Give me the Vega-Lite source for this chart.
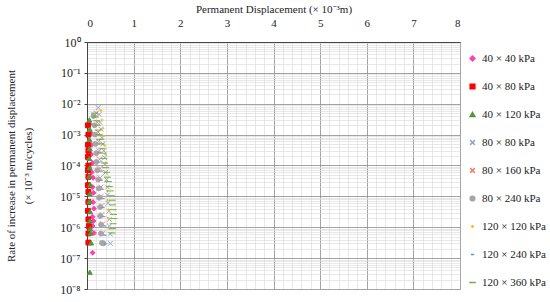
{
  "$schema": "https://vega.github.io/schema/vega-lite/v6.json",
  "width": 373,
  "height": 247,
  "autosize": {"type": "none"},
  "padding": {"left": 87, "top": 42, "right": 90, "bottom": 13},
  "background": "white",
  "config": {
    "view": {"stroke": null},
    "font": "Liberation Serif",
    "axis": {"labelFont": "Liberation Serif", "titleFont": "Liberation Serif", "labelColor": "#222", "titleColor": "#222", "titleFontWeight": "normal"},
    "legend": {"labelFont": "Liberation Serif"}
  },
  "data": {"values": [
    {"s":"40 × 40 kPa","x":0.06,"y":2.2e-3},{"s":"40 × 40 kPa","x":0.08,"y":1.1e-3},{"s":"40 × 40 kPa","x":0.10,"y":4.7e-4},{"s":"40 × 40 kPa","x":0.09,"y":2.3e-4},{"s":"40 × 40 kPa","x":0.12,"y":1.2e-4},{"s":"40 × 40 kPa","x":0.10,"y":6.0e-5},{"s":"40 × 40 kPa","x":0.13,"y":4.0e-5},{"s":"40 × 40 kPa","x":0.12,"y":2.0e-5},{"s":"40 × 40 kPa","x":0.14,"y":1.3e-5},{"s":"40 × 40 kPa","x":0.13,"y":6.5e-6},{"s":"40 × 40 kPa","x":0.15,"y":4.0e-6},{"s":"40 × 40 kPa","x":0.12,"y":2.2e-6},{"s":"40 × 40 kPa","x":0.14,"y":1.6e-6},{"s":"40 × 40 kPa","x":0.12,"y":1.1e-6},{"s":"40 × 40 kPa","x":0.15,"y":6.5e-7},{"s":"40 × 40 kPa","x":0.12,"y":1.5e-7},
    {"s":"40 × 80 kPa","x":0.02,"y":2.0e-3},{"s":"40 × 80 kPa","x":0.03,"y":1.0e-3},{"s":"40 × 80 kPa","x":0.02,"y":4.7e-4},{"s":"40 × 80 kPa","x":0.03,"y":3.0e-4},{"s":"40 × 80 kPa","x":0.02,"y":1.9e-4},{"s":"40 × 80 kPa","x":0.03,"y":1.0e-4},{"s":"40 × 80 kPa","x":0.02,"y":7.0e-5},{"s":"40 × 80 kPa","x":0.03,"y":4.3e-5},{"s":"40 × 80 kPa","x":0.02,"y":2.3e-5},{"s":"40 × 80 kPa","x":0.03,"y":1.4e-5},{"s":"40 × 80 kPa","x":0.03,"y":6.6e-6},{"s":"40 × 80 kPa","x":0.02,"y":3.4e-6},{"s":"40 × 80 kPa","x":0.03,"y":1.8e-6},{"s":"40 × 80 kPa","x":0.04,"y":1.1e-6},{"s":"40 × 80 kPa","x":0.03,"y":6.3e-7},{"s":"40 × 80 kPa","x":0.03,"y":3.2e-7},
    {"s":"40 × 120 kPa","x":0.05,"y":3.0e-3},{"s":"40 × 120 kPa","x":0.06,"y":1.5e-3},{"s":"40 × 120 kPa","x":0.05,"y":7.0e-4},{"s":"40 × 120 kPa","x":0.06,"y":3.5e-4},{"s":"40 × 120 kPa","x":0.05,"y":1.7e-4},{"s":"40 × 120 kPa","x":0.06,"y":8.5e-5},{"s":"40 × 120 kPa","x":0.05,"y":4.5e-5},{"s":"40 × 120 kPa","x":0.07,"y":2.4e-5},{"s":"40 × 120 kPa","x":0.06,"y":1.2e-5},{"s":"40 × 120 kPa","x":0.05,"y":6.8e-6},{"s":"40 × 120 kPa","x":0.07,"y":3.2e-6},{"s":"40 × 120 kPa","x":0.06,"y":1.6e-6},{"s":"40 × 120 kPa","x":0.07,"y":9.0e-7},{"s":"40 × 120 kPa","x":0.08,"y":6.5e-7},{"s":"40 × 120 kPa","x":0.09,"y":3.1e-7},{"s":"40 × 120 kPa","x":0.06,"y":3.5e-8},
    {"s":"80 × 80 kPa","x":0.24,"y":7.5e-3},{"s":"80 × 80 kPa","x":0.26,"y":4.5e-3},{"s":"80 × 80 kPa","x":0.28,"y":2.5e-3},{"s":"80 × 80 kPa","x":0.30,"y":1.5e-3},{"s":"80 × 80 kPa","x":0.32,"y":8.0e-4},{"s":"80 × 80 kPa","x":0.34,"y":5.0e-4},{"s":"80 × 80 kPa","x":0.36,"y":3.0e-4},{"s":"80 × 80 kPa","x":0.38,"y":1.8e-4},{"s":"80 × 80 kPa","x":0.38,"y":1.1e-4},{"s":"80 × 80 kPa","x":0.40,"y":6.0e-5},{"s":"80 × 80 kPa","x":0.42,"y":3.5e-5},{"s":"80 × 80 kPa","x":0.44,"y":2.0e-5},{"s":"80 × 80 kPa","x":0.44,"y":1.1e-5},{"s":"80 × 80 kPa","x":0.45,"y":6.0e-6},{"s":"80 × 80 kPa","x":0.47,"y":3.3e-6},{"s":"80 × 80 kPa","x":0.48,"y":1.8e-6},{"s":"80 × 80 kPa","x":0.48,"y":1.1e-6},{"s":"80 × 80 kPa","x":0.50,"y":6.0e-7},{"s":"80 × 80 kPa","x":0.50,"y":3.0e-7},
    {"s":"80 × 160 kPa","x":0.20,"y":5.0e-3},{"s":"80 × 160 kPa","x":0.22,"y":2.5e-3},{"s":"80 × 160 kPa","x":0.24,"y":1.2e-3},{"s":"80 × 160 kPa","x":0.25,"y":6.0e-4},{"s":"80 × 160 kPa","x":0.26,"y":3.0e-4},{"s":"80 × 160 kPa","x":0.27,"y":1.6e-4},{"s":"80 × 160 kPa","x":0.28,"y":8.0e-5},{"s":"80 × 160 kPa","x":0.28,"y":4.0e-5},{"s":"80 × 160 kPa","x":0.30,"y":2.0e-5},{"s":"80 × 160 kPa","x":0.30,"y":1.0e-5},{"s":"80 × 160 kPa","x":0.32,"y":5.0e-6},{"s":"80 × 160 kPa","x":0.32,"y":2.6e-6},{"s":"80 × 160 kPa","x":0.34,"y":1.3e-6},{"s":"80 × 160 kPa","x":0.34,"y":6.5e-7},
    {"s":"80 × 240 kPa","x":0.14,"y":4.0e-3},{"s":"80 × 240 kPa","x":0.16,"y":2.0e-3},{"s":"80 × 240 kPa","x":0.17,"y":1.0e-3},{"s":"80 × 240 kPa","x":0.18,"y":5.0e-4},{"s":"80 × 240 kPa","x":0.20,"y":2.5e-4},{"s":"80 × 240 kPa","x":0.20,"y":1.3e-4},{"s":"80 × 240 kPa","x":0.22,"y":7.0e-5},{"s":"80 × 240 kPa","x":0.24,"y":3.5e-5},{"s":"80 × 240 kPa","x":0.25,"y":1.8e-5},{"s":"80 × 240 kPa","x":0.26,"y":9.0e-6},{"s":"80 × 240 kPa","x":0.28,"y":4.5e-6},{"s":"80 × 240 kPa","x":0.28,"y":2.3e-6},{"s":"80 × 240 kPa","x":0.30,"y":1.2e-6},{"s":"80 × 240 kPa","x":0.30,"y":6.2e-7},{"s":"80 × 240 kPa","x":0.32,"y":3.1e-7},{"s":"80 × 240 kPa","x":0.35,"y":3.0e-7},
    {"s":"120 × 120 kPa","x":0.30,"y":6.0e-3},{"s":"120 × 120 kPa","x":0.32,"y":3.0e-3},{"s":"120 × 120 kPa","x":0.34,"y":1.6e-3},{"s":"120 × 120 kPa","x":0.36,"y":9.0e-4},{"s":"120 × 120 kPa","x":0.38,"y":4.5e-4},{"s":"120 × 120 kPa","x":0.40,"y":2.3e-4},{"s":"120 × 120 kPa","x":0.40,"y":1.2e-4},{"s":"120 × 120 kPa","x":0.42,"y":6.0e-5},{"s":"120 × 120 kPa","x":0.42,"y":3.0e-5},{"s":"120 × 120 kPa","x":0.44,"y":1.5e-5},{"s":"120 × 120 kPa","x":0.44,"y":7.5e-6},{"s":"120 × 120 kPa","x":0.46,"y":3.7e-6},{"s":"120 × 120 kPa","x":0.46,"y":1.9e-6},{"s":"120 × 120 kPa","x":0.48,"y":9.0e-7},
    {"s":"120 × 240 kPa","x":0.18,"y":4.0e-3},{"s":"120 × 240 kPa","x":0.20,"y":2.0e-3},{"s":"120 × 240 kPa","x":0.22,"y":1.0e-3},{"s":"120 × 240 kPa","x":0.24,"y":5.0e-4},{"s":"120 × 240 kPa","x":0.26,"y":2.6e-4},{"s":"120 × 240 kPa","x":0.28,"y":1.3e-4},{"s":"120 × 240 kPa","x":0.30,"y":6.5e-5},{"s":"120 × 240 kPa","x":0.30,"y":3.3e-5},{"s":"120 × 240 kPa","x":0.32,"y":1.7e-5},{"s":"120 × 240 kPa","x":0.34,"y":8.5e-6},{"s":"120 × 240 kPa","x":0.34,"y":4.3e-6},{"s":"120 × 240 kPa","x":0.36,"y":2.2e-6},{"s":"120 × 240 kPa","x":0.38,"y":1.1e-6},{"s":"120 × 240 kPa","x":0.38,"y":5.5e-7},{"s":"120 × 240 kPa","x":0.40,"y":2.9e-7},
    {"s":"120 × 360 kPa","x":0.16,"y":5.0e-3},{"s":"120 × 360 kPa","x":0.18,"y":3.7e-3},{"s":"120 × 360 kPa","x":0.20,"y":2.8e-3},{"s":"120 × 360 kPa","x":0.22,"y":2.0e-3},{"s":"120 × 360 kPa","x":0.24,"y":1.4e-3},{"s":"120 × 360 kPa","x":0.26,"y":1.0e-3},{"s":"120 × 360 kPa","x":0.28,"y":7.0e-4},{"s":"120 × 360 kPa","x":0.30,"y":5.0e-4},{"s":"120 × 360 kPa","x":0.32,"y":3.5e-4},{"s":"120 × 360 kPa","x":0.34,"y":2.5e-4},{"s":"120 × 360 kPa","x":0.36,"y":1.7e-4},{"s":"120 × 360 kPa","x":0.38,"y":1.2e-4},{"s":"120 × 360 kPa","x":0.40,"y":8.5e-5},{"s":"120 × 360 kPa","x":0.42,"y":6.0e-5},{"s":"120 × 360 kPa","x":0.44,"y":4.2e-5},{"s":"120 × 360 kPa","x":0.46,"y":3.0e-5},{"s":"120 × 360 kPa","x":0.48,"y":2.1e-5},{"s":"120 × 360 kPa","x":0.50,"y":1.5e-5},{"s":"120 × 360 kPa","x":0.52,"y":1.05e-5},{"s":"120 × 360 kPa","x":0.54,"y":7.5e-6},{"s":"120 × 360 kPa","x":0.55,"y":5.3e-6},{"s":"120 × 360 kPa","x":0.56,"y":3.7e-6},{"s":"120 × 360 kPa","x":0.57,"y":2.6e-6},{"s":"120 × 360 kPa","x":0.58,"y":1.9e-6},{"s":"120 × 360 kPa","x":0.56,"y":1.3e-6},{"s":"120 × 360 kPa","x":0.55,"y":9.0e-7},{"s":"120 × 360 kPa","x":0.54,"y":6.5e-7}
  ]},
  "layer": [
    {
      "mark": {"type": "point", "opacity": 0},
      "encoding": {
        "x": {"field": "x", "type": "quantitative", "scale": {"domain": [0, 8], "nice": false},
          "axis": {"orient": "bottom", "values": [0.2,0.4,0.6,0.8,1.2,1.4,1.6,1.8,2.2,2.4,2.6,2.8,3.2,3.4,3.6,3.8,4.2,4.4,4.6,4.8,5.2,5.4,5.6,5.8,6.2,6.4,6.6,6.8,7.2,7.4,7.6,7.8],
            "labels": false, "ticks": false, "domain": false, "title": null, "grid": true, "gridColor": "#d9d9d9", "gridWidth": 0.6}},
        "y": {"field": "y", "type": "quantitative", "scale": {"type": "log", "domain": [1e-8, 1], "nice": false},
          "axis": {"orient": "right", "values": [2e-8,3e-8,4e-8,5e-8,6e-8,7e-8,8e-8,9e-8,2e-7,3e-7,4e-7,5e-7,6e-7,7e-7,8e-7,9e-7,2e-6,3e-6,4e-6,5e-6,6e-6,7e-6,8e-6,9e-6,2e-5,3e-5,4e-5,5e-5,6e-5,7e-5,8e-5,9e-5,2e-4,3e-4,4e-4,5e-4,6e-4,7e-4,8e-4,9e-4,2e-3,3e-3,4e-3,5e-3,6e-3,7e-3,8e-3,9e-3,2e-2,3e-2,4e-2,5e-2,6e-2,7e-2,8e-2,9e-2,0.2,0.3,0.4,0.5,0.6,0.7,0.8,0.9],
            "labels": false, "ticks": false, "domain": false, "title": null, "grid": true, "gridColor": "#d9d9d9", "gridWidth": 0.6}}
      }
    },
    {
      "mark": {"type": "point", "filled": true, "opacity": 1, "size": 24, "strokeWidth": 1},
      "encoding": {
        "x": {"field": "x", "type": "quantitative",
          "axis": {"orient": "top", "values": [0,1,2,3,4,5,6,7,8], "title": "Permanent Displacement (× 10⁻³m)", "titleFontSize": 11, "titlePadding": 3, "labelFontSize": 11, "labelPadding": 14, "ticks": false, "domainColor": "#444", "grid": true, "gridColor": "#8c8c8c", "gridWidth": 0.8}},
        "y": {"field": "y", "type": "quantitative",
          "axis": {"orient": "left", "values": [1,0.1,0.01,0.001,0.0001,1e-5,1e-6,1e-7,1e-8],
            "labelExpr": "'10' + ['⁰','⁻¹','⁻²','⁻³','⁻⁴','⁻⁵','⁻⁶','⁻⁷','⁻⁸'][round(-log(datum.value)/LN10)]",
            "title": ["Rate of increase in permanent displacement", "(× 10⁻³ m/cycles)"], "titleFontSize": 11, "titleLineHeight": 17, "titlePadding": 26, "labelFontSize": 12, "labelPadding": 4, "tickSize": 3, "tickColor": "#444", "domainColor": "#444", "grid": true, "gridColor": "#8c8c8c", "gridWidth": 0.8}},
        "fill": {"field": "s", "type": "nominal",
          "scale": {"domain": ["40 × 40 kPa","40 × 80 kPa","40 × 120 kPa","80 × 80 kPa","80 × 160 kPa","80 × 240 kPa","120 × 120 kPa","120 × 240 kPa","120 × 360 kPa"],
            "range": ["#ff3fb0","#ff0000","#4f9a3a","#8fa7d0","#f0806a","#a6a6a6","#ffc000","#5b9bd5","#70ad47"]},
          "legend": {"title": null, "orient": "none", "legendX": 380, "legendY": 11, "labelFontSize": 11, "rowPadding": 16, "symbolSize": 22, "labelOffset": 4, "labelColor": "#222"}},
        "stroke": {"field": "s", "type": "nominal",
          "scale": {"domain": ["40 × 40 kPa","40 × 80 kPa","40 × 120 kPa","80 × 80 kPa","80 × 160 kPa","80 × 240 kPa","120 × 120 kPa","120 × 240 kPa","120 × 360 kPa"],
            "range": ["#ff3fb0","#ff0000","#4f9a3a","#8fa7d0","#f0806a","#a6a6a6","#ffc000","#5b9bd5","#70ad47"]},
          "legend": {"title": null, "orient": "none", "legendX": 380, "legendY": 11, "labelFontSize": 11, "rowPadding": 16, "symbolSize": 22, "labelOffset": 4, "labelColor": "#222"}},
        "shape": {"field": "s", "type": "nominal",
          "scale": {"domain": ["40 × 40 kPa","40 × 80 kPa","40 × 120 kPa","80 × 80 kPa","80 × 160 kPa","80 × 240 kPa","120 × 120 kPa","120 × 240 kPa","120 × 360 kPa"],
            "range": ["diamond","square","triangle-up","M-1,-1L1,1M-1,1L1,-1","M-1,-1L1,1M-1,1L1,-1","circle","M-0.6,0L0.6,0M0,-0.6L0,0.6","M-0.7,0L0.7,0","M-1.4,0L1.4,0"]},
          "legend": {"title": null, "orient": "none", "legendX": 380, "legendY": 11, "labelFontSize": 11, "rowPadding": 16, "symbolSize": 22, "labelOffset": 4, "labelColor": "#222"}}
      }
    }
  ]
}
